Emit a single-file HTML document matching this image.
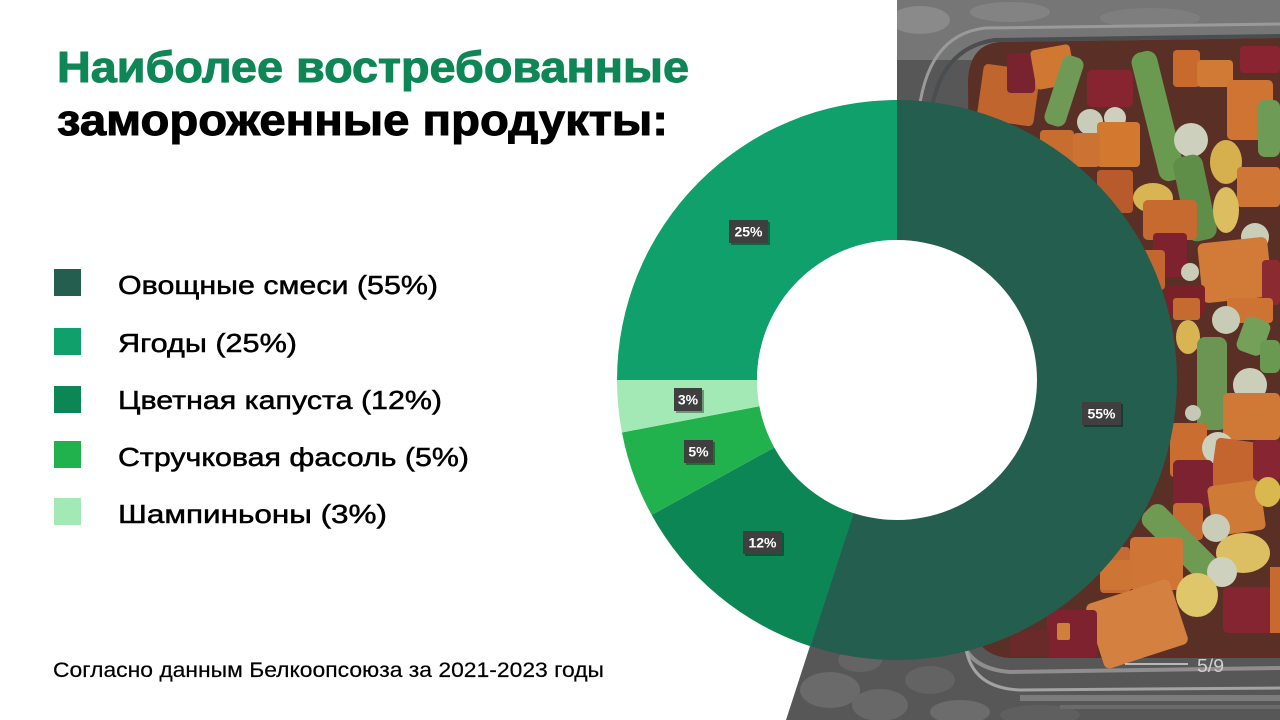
<!DOCTYPE html>
<html>
<head>
<meta charset="utf-8">
<style>
html,body{margin:0;padding:0;background:#fff;}
svg{display:block;}
</style>
</head>
<body>
<svg width="1280" height="720" viewBox="0 0 1280 720" xmlns="http://www.w3.org/2000/svg" font-family="'Liberation Sans', 'Noto Sans CJK SC', sans-serif">
  <defs>
    <clipPath id="photo">
      <polygon points="897,0 1280,0 1280,720 786,720 810,646 897,380"/>
    </clipPath>
  </defs>
  <rect width="1280" height="720" fill="#ffffff"/>

  <!-- PHOTO -->
  <g clip-path="url(#photo)">
    <rect x="780" y="0" width="500" height="720" fill="#575757"/>
    <rect x="880" y="0" width="400" height="60" fill="#767676"/>
    <ellipse cx="920" cy="20" rx="30" ry="14" fill="#8a8a8a"/>
    <ellipse cx="1010" cy="12" rx="40" ry="10" fill="#838383"/>
    <ellipse cx="1150" cy="18" rx="50" ry="10" fill="#7e7e7e"/>
    <path d="M918,120 Q925,35 985,28 L1280,24" stroke="#9a9a9a" stroke-width="3" fill="none"/>
    <path d="M930,120 Q938,48 995,40 L1280,36" stroke="#4a4e50" stroke-width="4" fill="none"/>
    <ellipse cx="830" cy="690" rx="30" ry="18" fill="#6a6a6a"/>
    <ellipse cx="880" cy="705" rx="28" ry="16" fill="#686868"/>
    <ellipse cx="930" cy="680" rx="25" ry="14" fill="#636363"/>
    <ellipse cx="860" cy="660" rx="22" ry="12" fill="#646464"/>
    <ellipse cx="960" cy="712" rx="30" ry="12" fill="#6c6c6c"/>
    <ellipse cx="1040" cy="715" rx="40" ry="10" fill="#5f5f5f"/>
    <path d="M1000,42 L1280,38 L1280,658 L1010,658 Q975,656 972,620 L968,80 Q970,44 1000,42 Z" fill="#5a3026"/>

    <rect x="980" y="67" width="57" height="56" rx="5" fill="#c0652e" transform="rotate(8 1008 95)"/>
    <rect x="1007" y="53" width="28" height="40" rx="4" fill="#7a2330"/>
    <rect x="1033" y="47" width="40" height="40" rx="4" fill="#d07832" transform="rotate(-10 1053 67)"/>
    <rect x="1053" y="55" width="22" height="72" rx="8" fill="#6f9a55" transform="rotate(18 1064 91)"/>
    <rect x="1087" y="70" width="46" height="37" rx="5" fill="#862530"/>
    <circle cx="1090" cy="122" r="13" fill="#c9ccb8"/>
    <circle cx="1115" cy="118" r="11" fill="#cfcfc0"/>
    <rect x="1097" y="122" width="43" height="45" rx="4" fill="#d2792f"/>
    <rect x="1040" y="130" width="34" height="37" rx="4" fill="#c86d30"/>
    <rect x="1073" y="133" width="27" height="34" rx="4" fill="#cc7233"/>
    <rect x="1145" y="50" width="26" height="132" rx="10" fill="#6a9a50" transform="rotate(-14 1158 116)"/>
    <rect x="1173" y="50" width="27" height="37" rx="4" fill="#c8692e"/>
    <rect x="1197" y="60" width="36" height="27" rx="4" fill="#d07a35"/>
    <rect x="1240" y="46" width="40" height="27" rx="4" fill="#8a2430"/>
    <rect x="1227" y="80" width="46" height="60" rx="5" fill="#cf7432"/>
    <rect x="1258" y="100" width="22" height="57" rx="7" fill="#6e9b56"/>
    <circle cx="1191" cy="140" r="17" fill="#ccd0bc"/>
    <ellipse cx="1226" cy="162" rx="16" ry="22" fill="#d6b04c"/>
    <rect x="1180" y="155" width="30" height="86" rx="10" fill="#5f8e48" transform="rotate(-12 1195 198)"/>
    <rect x="1237" y="167" width="43" height="40" rx="4" fill="#cf7535"/>
    <ellipse cx="1153" cy="198" rx="20" ry="15" fill="#d8b552"/>
    <rect x="1143" y="200" width="54" height="40" rx="5" fill="#c66a30"/>
    <ellipse cx="1226" cy="210" rx="13" ry="23" fill="#dcbd60"/>
    <circle cx="1255" cy="237" r="14" fill="#cacdb8"/>
    <rect x="1200" y="240" width="70" height="60" rx="6" fill="#d27a38" transform="rotate(-6 1235 270)"/>
    <rect x="1153" y="233" width="34" height="44" rx="4" fill="#7f2230"/>
    <circle cx="1190" cy="272" r="9" fill="#c8ccb8"/>
    <rect x="1097" y="170" width="36" height="43" rx="4" fill="#b85a2c"/>
    <rect x="1125" y="250" width="40" height="40" rx="4" fill="#c46630"/>
    <rect x="1165" y="285" width="40" height="30" rx="4" fill="#7a2029"/>
    <rect x="1262" y="260" width="18" height="45" rx="4" fill="#8b2a30"/>

    <rect x="1173" y="298" width="27" height="22" rx="3" fill="#c56a31"/>
    <rect x="1227" y="298" width="46" height="25" rx="4" fill="#cd7435"/>
    <circle cx="1226" cy="320" r="14" fill="#c8cbb6"/>
    <rect x="1240" y="318" width="27" height="36" rx="7" fill="#74a05a" transform="rotate(20 1253 336)"/>
    <ellipse cx="1188" cy="337" rx="12" ry="17" fill="#d8b452"/>
    <rect x="1197" y="337" width="30" height="93" rx="8" fill="#6c9452"/>
    <rect x="1260" y="340" width="20" height="33" rx="6" fill="#6a9a52"/>
    <circle cx="1250" cy="385" r="17" fill="#cbcfba"/>
    <rect x="1223" y="393" width="57" height="47" rx="5" fill="#d07835"/>
    <circle cx="1193" cy="413" r="8" fill="#c4c8b4"/>
    <rect x="1170" y="423" width="37" height="54" rx="4" fill="#c96d30"/>
    <circle cx="1218" cy="448" r="16" fill="#cdd0bc"/>
    <rect x="1213" y="440" width="44" height="50" rx="5" fill="#c46530" transform="rotate(8 1235 465)"/>
    <rect x="1173" y="460" width="40" height="47" rx="5" fill="#7d2230"/>
    <rect x="1253" y="440" width="27" height="40" rx="4" fill="#882532"/>
    <rect x="1210" y="483" width="53" height="50" rx="5" fill="#d07a38" transform="rotate(-8 1236 508)"/>
    <ellipse cx="1268" cy="492" rx="13" ry="15" fill="#d9b84e"/>
    <rect x="1173" y="503" width="30" height="37" rx="4" fill="#c66b32"/>
    <circle cx="1216" cy="528" r="14" fill="#c9ccb7"/>
    <rect x="1135" y="522" width="100" height="28" rx="10" fill="#6e9a52" transform="rotate(45 1173 538)"/>
    <ellipse cx="1243" cy="553" rx="27" ry="20" fill="#dcbf63"/>
    <rect x="1130" y="537" width="53" height="53" rx="5" fill="#cf7636"/>
    <rect x="1100" y="547" width="30" height="46" rx="4" fill="#c56a33"/>
    <circle cx="1222" cy="572" r="15" fill="#cfd1bf"/>
    <ellipse cx="1197" cy="595" rx="21" ry="22" fill="#e0c66a"/>
    <rect x="1223" y="587" width="50" height="46" rx="5" fill="#842531"/>
    <rect x="1270" y="567" width="10" height="66" fill="#c86a30"/>
    <rect x="1093" y="590" width="88" height="68" rx="6" fill="#d38040" transform="rotate(-18 1137 624)"/>
    <rect x="1047" y="610" width="50" height="48" rx="4" fill="#7e2230"/>
    <rect x="1057" y="623" width="13" height="17" rx="2" fill="#d0803a"/>
    <rect x="1100" y="560" width="33" height="30" rx="4" fill="#cc7535"/>
    <rect x="1010" y="630" width="40" height="26" rx="4" fill="#6a2a2a"/>

    <path d="M960,620 Q958,668 1010,672 L1280,668" stroke="#8e8e8e" stroke-width="4" fill="none"/>
    <path d="M965,640 Q968,688 1020,690 L1280,688" stroke="#a3a3a3" stroke-width="3" fill="none"/>
    <rect x="1020" y="695" width="260" height="6" fill="#7c7c7c"/>
    <rect x="1060" y="705" width="220" height="4" fill="#6b6b6b"/>
  </g>

  <!-- DONUT -->
  <path d="M897,100 A280,280 0 1 1 810.47,646.30 L853.74,513.15 A140,140 0 1 0 897,240 Z" fill="#235E4E"/>
  <path d="M810.47,646.30 A280,280 0 0 1 651.63,514.89 L774.32,447.45 A140,140 0 0 0 853.74,513.15 Z" fill="#0D8656"/>
  <path d="M651.63,514.89 A280,280 0 0 1 621.96,432.47 L759.48,406.23 A140,140 0 0 0 774.32,447.45 Z" fill="#22B24D"/>
  <path d="M621.96,432.47 A280,280 0 0 1 617,380 L757,380 A140,140 0 0 0 759.48,406.23 Z" fill="#A3E9B6"/>
  <path d="M617,380 A280,280 0 0 1 897,100 L897,240 A140,140 0 0 0 757,380 Z" fill="#10A06B"/>
  <circle cx="897" cy="380" r="140" fill="#ffffff"/>

  <!-- DATA LABELS -->
  <g font-weight="bold" font-size="14" fill="#ffffff" text-anchor="middle">
    <rect x="731" y="222" width="39" height="23" fill="#000" opacity="0.35"/>
    <rect x="729" y="220" width="39" height="23" fill="#3f3f3f"/>
    <text x="748.5" y="236.5">25%</text>

    <rect x="676" y="390" width="28" height="23" fill="#000" opacity="0.35"/>
    <rect x="674" y="388" width="28" height="23" fill="#3f3f3f"/>
    <text x="688" y="404.5">3%</text>

    <rect x="686" y="442" width="29" height="23" fill="#000" opacity="0.35"/>
    <rect x="684" y="440" width="29" height="23" fill="#3f3f3f"/>
    <text x="698.5" y="456.5">5%</text>

    <rect x="745" y="533" width="39" height="23" fill="#000" opacity="0.35"/>
    <rect x="743" y="531" width="39" height="23" fill="#3f3f3f"/>
    <text x="762.5" y="547.5">12%</text>

    <rect x="1084" y="404" width="39" height="23" fill="#000" opacity="0.35"/>
    <rect x="1082" y="402" width="39" height="23" fill="#3f3f3f"/>
    <text x="1101.5" y="418.5">55%</text>
  </g>

  <!-- TITLE -->
  <text x="57" y="82" font-size="44" font-weight="bold" fill="#0E8656" stroke="#0E8656" stroke-width="1" textLength="632" lengthAdjust="spacingAndGlyphs">Наиболее востребованные</text>
  <text x="57" y="135" font-size="44" font-weight="bold" fill="#000000" stroke="#000000" stroke-width="1" textLength="611" lengthAdjust="spacingAndGlyphs">замороженные продукты:</text>

  <!-- LEGEND -->
  <rect x="54" y="269" width="27" height="27" fill="#235E4E"/>
  <rect x="54" y="328" width="27" height="27" fill="#10A06B"/>
  <rect x="54" y="386" width="27" height="27" fill="#0D8656"/>
  <rect x="54" y="441" width="27" height="27" fill="#22B24D"/>
  <rect x="54" y="498" width="27" height="27" fill="#A3E9B6"/>
  <g font-size="26" fill="#000000" stroke="#000000" stroke-width="0.5">
    <text x="118" y="294" textLength="320" lengthAdjust="spacingAndGlyphs">Овощные смеси (55%)</text>
    <text x="118" y="352" textLength="179" lengthAdjust="spacingAndGlyphs">Ягоды (25%)</text>
    <text x="118" y="409" textLength="324" lengthAdjust="spacingAndGlyphs">Цветная капуста (12%)</text>
    <text x="118" y="466" textLength="351" lengthAdjust="spacingAndGlyphs">Стручковая фасоль (5%)</text>
    <text x="118" y="523" textLength="269" lengthAdjust="spacingAndGlyphs">Шампиньоны (3%)</text>
  </g>

  <!-- FOOTNOTE -->
  <text x="53" y="677" font-size="21" fill="#000000" stroke="#000000" stroke-width="0.2" textLength="551" lengthAdjust="spacingAndGlyphs">Согласно данным Белкоопсоюза за 2021-2023 годы</text>

  <!-- PAGE NUMBER -->
  <line x1="1125" y1="664" x2="1188" y2="664" stroke="#d8d8d8" stroke-width="1.5"/>
  <text x="1197" y="672" font-size="18" fill="#cfcfcf" textLength="27" lengthAdjust="spacingAndGlyphs">5/9</text>
</svg>
</body>
</html>
